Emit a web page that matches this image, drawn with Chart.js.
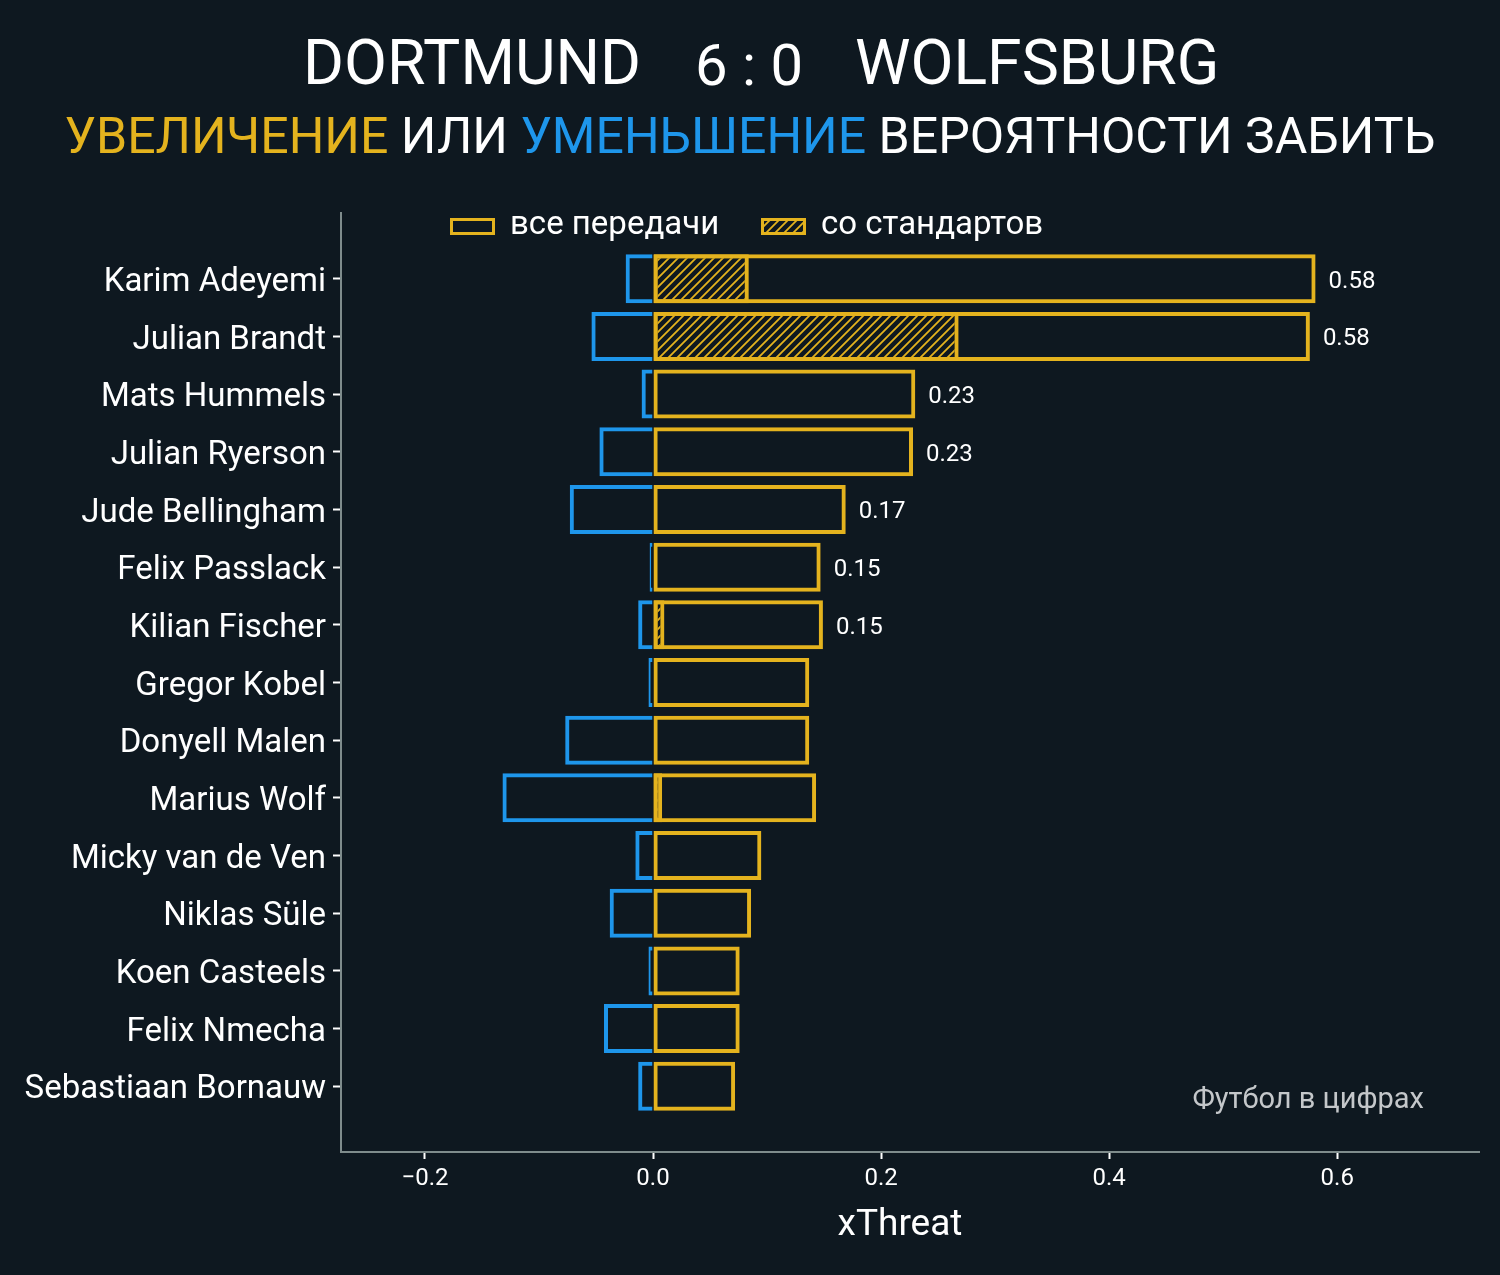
<!DOCTYPE html>
<html>
<head>
<meta charset="utf-8">
<script src="https://cdn.jsdelivr.net/npm/chart.js@4/dist/chart.umd.min.js"></script>
<style>
  html, body { margin: 0; padding: 0; background: #0e1820; }
  #wrap { position: relative; width: 1500px; height: 1275px; background: #0e1820; font-family: Roboto, sans-serif; color: #fff; }
  #myChart { position: absolute; left: 0; top: 0; }
  .t { position: absolute; line-height: 1; white-space: nowrap; }
  #sub { position: absolute; left: 0; width: 1500px; top: 111px; text-align: center; font-size: 50px; line-height: 1; white-space: nowrap; }
  .yel { color: #e4b31e; }
  .blu { color: #1e96eb; }
</style>
</head>
<body>
<div id="wrap">
  <canvas id="myChart" width="1500" height="1275"></canvas>
  <div class="t" style="left:303px; top:32px; font-size:62.5px;">DORTMUND</div>
  <div class="t" style="left:695px; top:36px; font-size:58px;">6 : 0</div>
  <div class="t" style="left:855px; top:32px; font-size:62.5px;">WOLFSBURG</div>
  <div id="sub"><span class="yel">УВЕЛИЧЕНИЕ</span> ИЛИ <span class="blu">УМЕНЬШЕНИЕ</span> ВЕРОЯТНОСТИ ЗАБИТЬ</div>
</div>
<script>
const players = ['Karim Adeyemi', 'Julian Brandt', 'Mats Hummels', 'Julian Ryerson', 'Jude Bellingham',
  'Felix Passlack', 'Kilian Fischer', 'Gregor Kobel', 'Donyell Malen', 'Marius Wolf',
  'Micky van de Ven', 'Niklas Süle', 'Koen Casteels', 'Felix Nmecha', 'Sebastiaan Bornauw'];
// xThreat gained by all passes
const allPasses = [0.581, 0.576, 0.230, 0.228, 0.169, 0.147, 0.149, 0.137, 0.137, 0.143, 0.095, 0.086, 0.076, 0.076, 0.072];
// xThreat gained from set pieces
const setPieces = [0.084, 0.268, 0, 0, 0, 0, 0.010, 0, 0, 0.008, 0, 0, 0, 0, 0];
// xThreat lost
const lost = [-0.024, -0.054, -0.010, -0.047, -0.073, -0.003, -0.013, -0.004, -0.077, -0.132, -0.0155, -0.038, -0.004, -0.043, -0.013];
const xTicks = [-0.2, 0.0, 0.2, 0.4, 0.6];
const labelCount = 7;

const YELLOW = '#e4b31e';
const BLUE = '#1e96eb';
const FONT = 'Roboto';

const canva = document.getElementById('myChart');
const ctx = canva.getContext('2d');

// diagonal hatch
const pc = document.createElement('canvas');
pc.width = 9; pc.height = 9;
const pctx = pc.getContext('2d');
pctx.strokeStyle = YELLOW;
pctx.lineWidth = 1.8;
pctx.beginPath();
pctx.moveTo(0, 9); pctx.lineTo(9, 0);
pctx.moveTo(-2, 2); pctx.lineTo(2, -2);
pctx.moveTo(7, 11); pctx.lineTo(11, 7);
pctx.stroke();
const hatch = ctx.createPattern(pc, 'repeat');

const pts = arr => arr.map((v, i) => ({x: v, y: i}));

const extras = {
  id: 'extras',
  afterDatasetsDraw(chart) {
    const c = chart.ctx;
    const meta = chart.getDatasetMeta(1);
    c.save();
    c.fillStyle = '#ffffff';
    c.font = '24px ' + FONT;
    c.textAlign = 'left';
    c.textBaseline = 'middle';
    for (let i = 0; i < labelCount; i++) {
      const el = meta.data[i];
      c.fillText(allPasses[i].toFixed(2), el.x + 13, el.y + 3);
    }
    // legend
    const items = [
      {x: 451, text: chart.data.datasets[1].label, fill: null},
      {x: 762, text: chart.data.datasets[0].label, fill: hatch}
    ];
    c.font = '33px ' + FONT;
    items.forEach(it => {
      if (it.fill) { c.fillStyle = it.fill; c.fillRect(it.x, 219, 43, 15); }
      c.strokeStyle = YELLOW;
      c.lineWidth = 3;
      c.strokeRect(it.x + 0.5, 219.5, 42, 14);
      c.fillStyle = '#ffffff';
      c.fillText(it.text, it.x + 59, 226);
    });
    // axis title
    c.textAlign = 'center';
    c.font = '37px ' + FONT;
    c.fillText('xThreat', 900, 1226);
    // watermark
    c.fillStyle = '#c4c7ca';
    c.font = '29px ' + FONT;
    c.textAlign = 'right';
    c.textBaseline = 'alphabetic';
    c.fillText('Футбол в цифрах', 1424, 1108);
    c.restore();
  }
};

new Chart(ctx, {
  type: 'bar',
  data: {
    datasets: [
      {
        label: 'со стандартов',
        data: pts(setPieces),
        backgroundColor: hatch,
        borderColor: YELLOW,
        borderWidth: 4,
        borderSkipped: false,
        order: 0
      },
      {
        label: 'все передачи',
        data: pts(allPasses),
        backgroundColor: 'rgba(0,0,0,0)',
        borderColor: YELLOW,
        borderWidth: 4,
        borderSkipped: false,
        order: 1
      },
      {
        label: 'потери',
        data: pts(lost),
        backgroundColor: 'rgba(0,0,0,0)',
        borderColor: BLUE,
        borderWidth: 4,
        order: 2
      }
    ]
  },
  options: {
    indexAxis: 'y',
    responsive: false,
    animation: false,
    devicePixelRatio: 1,
    grouped: false,
    barPercentage: 0.85,
    categoryPercentage: 1,
    layout: { padding: { top: 213, right: 21, left: 0, bottom: 0 } },
    plugins: { legend: { display: false }, tooltip: { enabled: false } },
    scales: {
      x: {
        type: 'linear',
        min: -0.2736,
        max: 0.7243,
        afterBuildTicks: s => { s.ticks = xTicks.map(v => ({value: v})); },
        afterFit: s => { s.height = 123; },
        grid: { drawOnChartArea: false, tickLength: 7, tickColor: '#ffffff', tickWidth: 2 },
        border: { color: '#7f8c8c', width: 2 },
        ticks: {
          color: '#ffffff',
          font: { family: FONT, size: 24 },
          padding: 6,
          autoSkip: false,
          callback: v => v.toFixed(1).replace('-', '\u2212')
        }
      },
      y: {
        type: 'linear',
        min: -1.14,
        max: 15.14,
        reverse: true,
        offset: false,
        afterBuildTicks: s => { s.ticks = players.map((p, i) => ({value: i})); },
        afterFit: s => { s.width = 341; },
        grid: { offset: false, drawOnChartArea: false, tickLength: 8, tickColor: '#ffffff', tickWidth: 2 },
        border: { color: '#7f8c8c', width: 2 },
        ticks: {
          color: '#ffffff',
          font: { family: FONT, size: 33 },
          padding: 7,
          labelOffset: 4,
          autoSkip: false,
          callback: v => players[v]
        }
      }
    }
  },
  plugins: [extras]
});
</script>
</body>
</html>
